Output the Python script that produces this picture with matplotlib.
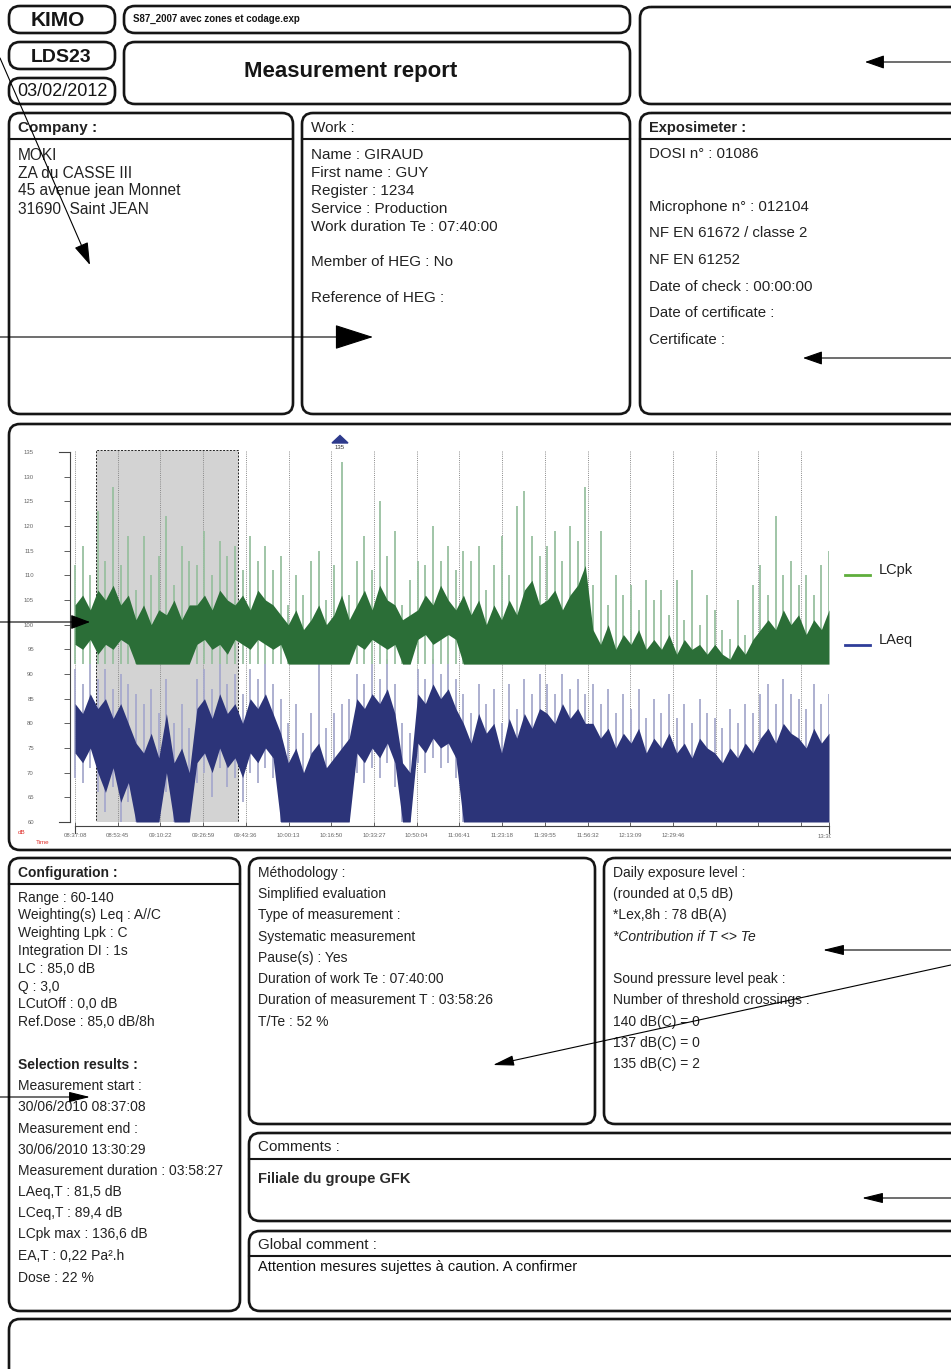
import numpy as np
import matplotlib
matplotlib.use("Agg")
import matplotlib.pyplot as plt
from matplotlib.patches import FancyBboxPatch, Rectangle, Polygon
from matplotlib.transforms import Bbox

plt.rcParams["font.family"] = ["Liberation Sans", "DejaVu Sans"]

# ---- chart data (seconds from 08:37:08, one sample every ~178 s) ----
total_seconds = 17601
tick_step = 997
tick_labels = ["08:37:08", "08:53:45", "09:10:22", "09:26:59", "09:43:36",
               "10:00:13", "10:16:50", "10:33:27", "10:50:04", "11:06:41",
               "11:23:18", "11:39:55", "11:56:32", "12:13:09", "12:29:46",
               "", "", ""]
end_label = "13:30:29"
y_ticks = list(range(60, 140, 5))
selection = (490, 3805)
peak_time = 6186
peak_label = "135"
green_floor = 92

green_lo = [96, 95, 97, 94, 96, 95, 97, 96,
            92, 92, 92, 92, 92, 92, 92, 92,
            96, 97, 95, 96, 94, 97, 96, 95, 97, 96, 95, 96,
            92, 92, 92, 92, 92, 92, 92, 92, 92,
            96, 95, 97, 96, 95, 96,
            92, 92,
            97, 98, 96, 97, 98, 97,
            92, 92, 92, 92, 92, 92, 92, 92, 92, 92, 92,
            92, 92, 92, 92, 92, 92,
            92, 92, 92, 92, 92, 92, 92, 92, 92, 92, 92, 92, 92, 92, 92, 92,
            92, 92, 92, 92, 92, 92, 92, 92, 92, 92, 92, 92, 92, 92, 92, 92]
green_hi = [104, 106, 103, 107, 105, 108, 104, 106,
            101, 104, 100, 103, 102, 105, 101, 104,
            104, 106, 103, 107, 105, 104, 106, 103, 107, 105, 104, 102,
            100, 103, 99, 101, 104, 100, 102, 106, 101,
            104, 107, 103, 108, 105, 104,
            101, 102,
            103, 106, 104, 108, 105, 103,
            106, 102, 105, 100, 104, 101, 105, 102, 107, 109, 104,
            105, 107, 103, 106, 108, 112,
            99, 96, 100, 95, 98, 96, 99, 95, 97, 95, 98, 94, 97, 95, 96, 94,
            96, 94, 93, 96, 94, 97, 99, 101, 99, 103, 100, 102, 98, 101, 99, 103]
green_max = [112, 116, 110, 123, 113, 128, 112, 118,
             107, 118, 110, 114, 122, 108, 116, 113,
             112, 119, 110, 117, 114, 116, 111, 118, 113, 116, 111, 114,
             104, 110, 106, 113, 115, 105, 112, 133, 106,
             113, 118, 111, 125, 114, 119,
             104, 109,
             113, 112, 120, 113, 116, 111,
             115, 113, 116, 107, 112, 118, 110, 124, 127, 118, 114,
             116, 119, 113, 120, 117, 128,
             108, 119, 104, 110, 106, 108, 103, 109, 105, 107, 102, 109, 101, 111, 100, 106,
             103, 99, 97, 105, 98, 108, 112, 106, 122, 110, 113, 108, 110, 106, 112, 115]

blue_min = [69, 68, 71, 66, 62, 67, 60, 64,
            60, 60, 60, 60, 66, 60, 60, 60,
            68, 70, 65, 71, 67, 69, 64, 70, 68, 71, 69,
            60, 60, 60, 60, 60, 60, 60, 60, 60, 60,
            70, 68, 71, 69, 72, 67,
            60, 60,
            72, 70, 73, 71, 72, 69,
            60, 60, 60, 60, 60, 60, 60, 60, 60, 60, 60,
            60, 60, 60, 60, 60, 60,
            60, 60, 60, 60, 60, 60, 60, 60, 60, 60, 60, 60, 60, 60, 60, 60,
            60, 60, 60, 60, 60, 60, 60, 60, 60, 60, 60, 60, 60, 60, 60, 60]
blue_lo = [74, 72, 75, 70, 66, 71, 64, 68,
           60, 60, 60, 60, 70, 60, 60, 60,
           72, 74, 70, 75, 71, 73, 69, 74, 72, 75, 73,
           60, 60, 60, 60, 60, 60, 60, 60, 60, 60,
           74, 72, 75, 73, 76, 72,
           60, 60,
           76, 74, 77, 75, 76, 73,
           60, 60, 60, 60, 60, 60, 60, 60, 60, 60, 60,
           60, 60, 60, 60, 60, 60,
           60, 60, 60, 60, 60, 60, 60, 60, 60, 60, 60, 60, 60, 60, 60, 60,
           60, 60, 60, 60, 60, 60, 60, 60, 60, 60, 60, 60, 60, 60, 60, 60]
blue_hi = [84, 82, 86, 83, 85, 81, 84, 80,
           76, 74, 78, 73, 82, 72, 75, 70,
           83, 85, 81, 86, 82, 84, 80, 85, 83, 86, 82,
           78, 72, 75, 70, 74, 76, 71, 73, 75, 77,
           85, 83, 86, 84, 87, 82,
           72, 70,
           86, 84, 88, 85, 87, 83,
           80, 76, 82, 78, 80, 74, 81, 77, 82, 79, 83,
           82, 80, 84, 81, 83, 80,
           80, 77, 79, 75, 78, 76, 79, 74, 77, 75, 78, 74, 76, 73, 77, 75,
           74, 72, 75, 73, 76, 74, 77, 79, 76, 80, 78, 77, 75, 79, 76, 78]
blue_max = [91, 88, 92, 89, 91, 87, 90, 88,
            86, 84, 87, 82, 89, 80, 84, 79,
            89, 91, 87, 92, 88, 90, 86, 91, 89, 92, 88,
            85, 80, 84, 78, 82, 92, 79, 82, 84, 85,
            90, 88, 92, 89, 93, 88,
            80, 78,
            91, 89, 93, 90, 92, 89,
            86, 82, 88, 84, 87, 80, 88, 83, 89, 86, 90,
            88, 86, 90, 87, 89, 86,
            88, 84, 87, 82, 86, 83, 87, 81, 85, 82, 86, 81, 84, 80, 85, 82,
            81, 79, 83, 80, 84, 82, 86, 88, 84, 89, 86, 85, 83, 88, 84, 86]

# ---- report texts ----
company_lines = ["MOKI", "ZA du CASSE III", "45 avenue jean Monnet", "31690  Saint JEAN"]
work_lines = ["Name : GIRAUD", "First name : GUY", "Register : 1234", "Service : Production",
              "Work duration Te : 07:40:00", "Member of HEG : No", "Reference of HEG :"]
expo_lines = ["DOSI n° : 01086", "Microphone n° : 012104", "NF EN 61672 / classe 2",
              "NF EN 61252", "Date of check : 00:00:00", "Date of certificate :", "Certificate :"]
config_lines = ["Range : 60-140", "Weighting(s) Leq : A//C", "Weighting Lpk : C",
                "Integration DI : 1s", "LC : 85,0 dB", "Q : 3,0", "LCutOff : 0,0 dB",
                "Ref.Dose : 85,0 dB/8h"]
selection_lines = ["Measurement start :", "30/06/2010 08:37:08", "Measurement end :",
                   "30/06/2010 13:30:29", "Measurement duration : 03:58:27",
                   "LAeq,T : 81,5 dB", "LCeq,T : 89,4 dB", "LCpk max : 136,6 dB",
                   "EA,T : 0,22 Pa².h", "Dose : 22 %"]
method_lines = ["Méthodology :", "Simplified evaluation", "Type of measurement :",
                "Systematic measurement", "Pause(s) : Yes", "Duration of work Te : 07:40:00",
                "Duration of measurement T : 03:58:26", "T/Te : 52 %"]
daily_lines = ["Daily exposure level :", "(rounded at 0,5 dB)", "*Lex,8h : 78 dB(A)",
               "*Contribution if T <> Te", "Sound pressure level peak :",
               "Number of threshold crossings :", "140 dB(C) = 0", "137 dB(C) = 0",
               "135 dB(C) = 2"]

INK = "#151515"
TXT = "#222222"
DY = 2  # matplotlib centres on the full line box, nudge down to the cap centre

fig = plt.figure(figsize=(9.51, 13.69), dpi=100)

# chart first, the page (boxes, texts, arrows) sits on top of it
px = (829 - 75) / total_seconds
ax = fig.add_axes([70 / 951, (1369 - 822) / 1369, (829 - 70) / 951, 372 / 1369])
ax.set_zorder(1)
ax.set_facecolor("none")

page = fig.add_axes([0, 0, 1, 1])
page.set_zorder(2)
page.set_xlim(0, 951)
page.set_ylim(1369, 0)
page.axis("off")
page.patch.set_visible(False)


def box(x0, y0, x1, y1, sep=None):
    page.add_patch(FancyBboxPatch((x0, y0), x1 - x0, y1 - y0,
                                  boxstyle="round,pad=0,rounding_size=11",
                                  lw=1.9, ec=INK, fc="none"))
    if sep is not None:
        page.plot([x0, x1], [sep, sep], color=INK, lw=1.5)


def label(x, y, s, size, **kw):
    kw.setdefault("color", TXT)
    kw.setdefault("va", "center")
    return page.text(x, y + DY, s, fontsize=size, **kw)


def write(x, ys, texts, size, **kw):
    for y, t in zip(ys, texts):
        label(x, y, t, size, **kw)


def arrow(tail, head, hl, hw):
    page.annotate("", xy=head, xytext=tail, annotation_clip=False,
                  arrowprops=dict(arrowstyle=f"-|>,head_length={hl},head_width={hw}",
                                  color="black", lw=0.8, shrinkA=0, shrinkB=0,
                                  mutation_scale=10))


# boxes
box(9, 6, 115, 33)
box(124, 6, 630, 33)
box(9, 42, 115, 69)
box(124, 42, 630, 104)
box(9, 78, 115, 104)
box(640, 7, 975, 104)
box(9, 113, 293, 414, sep=139)
box(302, 113, 630, 414, sep=139)
box(640, 113, 975, 414, sep=139)
box(9, 424, 975, 850)
box(9, 858, 240, 1311, sep=884)
box(249, 858, 595, 1124)
box(604, 858, 975, 1124)
box(249, 1133, 975, 1221, sep=1159)
box(249, 1231, 975, 1311, sep=1256)
box(9, 1319, 975, 1400)

# header texts
label(58, 19, "KIMO", 15, fontweight="bold", ha="center", color=INK)
label(61, 55, "LDS23", 14, fontweight="bold", ha="center", color=INK)
label(62, 90, "03/02/2012", 13, ha="center", color=INK)
label(133, 17, "S87_2007 avec zones et codage.exp", 7, fontweight="bold", color=INK)
label(351, 69, "Measurement report", 16, fontweight="bold", ha="center", color=INK)

label(18, 126, "Company :", 11, fontweight="bold")
write(18, [153, 171, 189, 207], company_lines, 11.2)
label(311, 126, "Work :", 11)
write(311, [153, 171, 189, 207, 225, 260, 296], work_lines, 11)
label(649, 126, "Exposimeter :", 10.5, fontweight="bold")
write(649, [152, 205, 231, 258, 285, 311, 338], expo_lines, 10.8)

label(18, 871, "Configuration :", 10, fontweight="bold")
write(18, [896, 913, 931, 949, 967, 985, 1002, 1020], config_lines, 10)
label(18, 1063, "Selection results :", 10, fontweight="bold")
write(18, [1084, 1105, 1127, 1148, 1169, 1190, 1211, 1232, 1254, 1276], selection_lines, 10)
write(258, [871, 892, 913, 935, 956, 977, 998, 1020], method_lines, 10)
daily_ys = [871, 892, 913, 935, 977, 998, 1020, 1041, 1062]
for y, t in zip(daily_ys, daily_lines):
    label(613, y, t, 10, fontstyle="italic" if t.startswith("*Contribution") else "normal")

label(258, 1145, "Comments :", 11)
label(258, 1177, "Filiale du groupe GFK", 10.5, fontweight="bold", color="#2a2a2a")
label(258, 1243, "Global comment :", 11)
label(258, 1265, "Attention mesures sujettes à caution. A confirmer", 10.5, color="#111111")

# ---- chart ----
ax.set_xlim(-5 / px, total_seconds)
ax.set_ylim(60, 135.4)

ax.add_patch(Rectangle((selection[0], 60), selection[1] - selection[0], 75.3,
                       fc="#d3d3d3", ec="#222222", lw=0.7, ls=(0, (2, 1.5)), zorder=0))
grid_ticks = np.arange(len(tick_labels)) * tick_step
for t in grid_ticks:
    ax.plot([t, t], [60, 135.3], color="#8a8a8a", lw=0.7, ls=(0, (1, 1.2)), zorder=1)

times = np.arange(len(green_hi)) * (total_seconds / (len(green_hi) - 1))
ax.vlines(times, blue_min, blue_max, color="#a7aacd", lw=1.3, zorder=2)
ax.fill_between(times, blue_lo, blue_hi, color="#2c3479", lw=0, zorder=3)
ax.vlines(times, green_floor, green_max, color="#99c0a0", lw=1.3, zorder=2)
ax.fill_between(times, green_lo, green_hi, color="#2b6e37", lw=0, zorder=3)

for s in ["top", "right"]:
    ax.spines[s].set_visible(False)
ax.spines["left"].set_bounds(60, 135)
ax.spines["left"].set_color("#444444")
ax.spines["left"].set_linewidth(0.8)
ax.spines["bottom"].set_position(("outward", 3))
ax.spines["bottom"].set_bounds(0, total_seconds)
ax.spines["bottom"].set_color("#444444")
ax.spines["bottom"].set_linewidth(0.8)

ax.set_yticks(y_ticks)
ax.tick_params(axis="y", direction="out", length=4, width=0.6, colors="#444444",
               labelsize=4.3, labelcolor="#666666", pad=22)
ax.set_xticks(list(grid_ticks) + [total_seconds])
ax.set_xticklabels(tick_labels + [""])
ax.tick_params(axis="x", direction="in", length=3, width=0.6, colors="#444444",
               labelsize=4.3, labelcolor="#666666", pad=5)
for yv in (60, 135):
    ax.plot([-16 / px, -5 / px], [yv, yv], color="#444444", lw=0.8, clip_on=False)
page.plot([75, 75], [826, 833], color="#444444", lw=0.8)
page.plot([829, 829], [826, 833], color="#444444", lw=0.8)

end_txt = page.text(829, 837, end_label, fontsize=4.3, color="#666666", ha="center", va="center")
end_txt.set_clip_box(Bbox.from_extents(0, 0, 831, 1369))
end_txt.set_clip_on(True)

page.text(22, 832, "dB", fontsize=4.5, color="#e0302b", ha="center", va="center")
page.text(43, 843, "Time", fontsize=4.5, color="#e0302b", ha="center", va="center")

mx = 75 + peak_time * px
page.add_patch(Polygon([[mx - 8, 443], [mx + 8, 443], [mx, 435.5]], closed=True,
                       color="#2d3a8c"))
page.text(mx, 447.5, peak_label, fontsize=4.3, color="#333333", ha="center", va="center")

page.plot([845, 870], [575, 575], color="#5fae3c", lw=2)
label(879, 568, "LCpk", 10.5)
page.plot([845, 870], [645, 645], color="#2f3d99", lw=2)
label(879, 638, "LAeq", 10.5)

# ---- stray arrows on the page ----
arrow((0, 58), (90, 265), 1.4, 0.45)
arrow((0, 337), (373, 337), 2.5, 0.8)
arrow((960, 62), (865, 62), 1.2, 0.42)
arrow((960, 358), (803, 358), 1.2, 0.42)
arrow((0, 622), (90, 622), 1.2, 0.45)
arrow((0, 1097), (90, 1097), 1.3, 0.32)
arrow((960, 950), (823, 950), 1.3, 0.32)
arrow((960, 963), (493, 1065), 1.3, 0.32)
arrow((960, 1198), (862, 1198), 1.3, 0.32)

fig.savefig("out.png", dpi=100)
